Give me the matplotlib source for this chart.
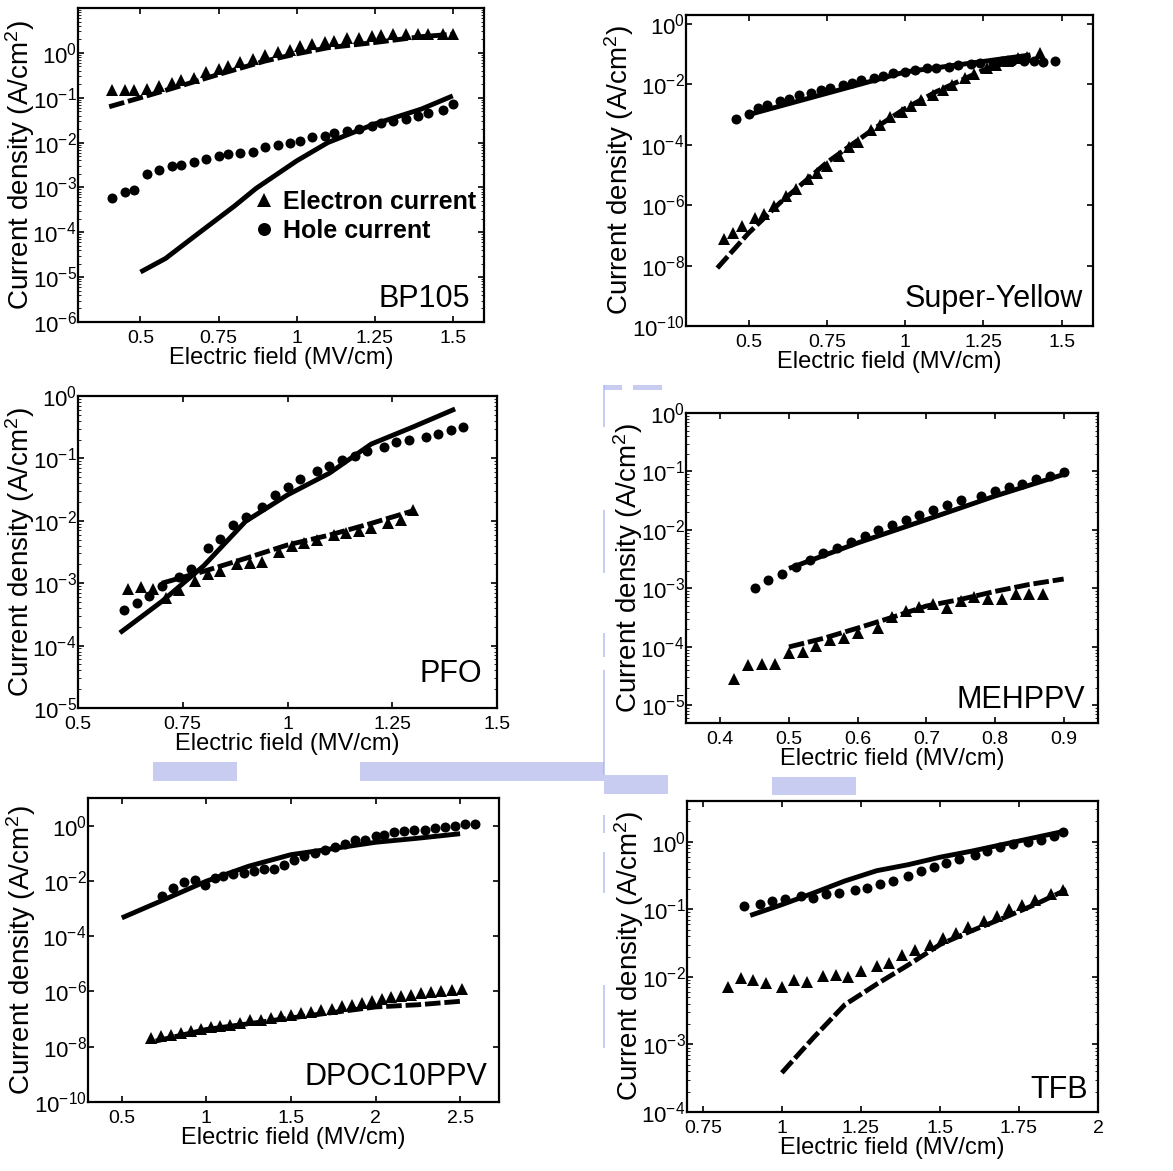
import matplotlib
matplotlib.use("Agg")
import matplotlib.pyplot as plt
from matplotlib.patches import Rectangle
from matplotlib.ticker import FuncFormatter, LogFormatterSciNotation, LogLocator, NullLocator
import numpy as np

plt.rcParams["font.family"] = ["Liberation Sans", "DejaVu Sans"]
plt.rcParams["mathtext.fontset"] = "custom"
plt.rcParams["mathtext.rm"] = "Liberation Sans"
plt.rcParams["mathtext.it"] = "Liberation Sans:italic"
plt.rcParams["mathtext.default"] = "regular"
plt.rcParams["axes.unicode_minus"] = False

# ---- BP105 ----
bp105_field = [0.41, 0.45, 0.48, 0.52, 0.56, 0.60, 0.63, 0.67, 0.71, 0.75, 0.78, 0.82, 0.86, 0.90, 0.94,
               0.98, 1.01, 1.05, 1.09, 1.12, 1.16, 1.20, 1.24, 1.27, 1.31, 1.35, 1.39, 1.42, 1.47, 1.50]
bp105_electron = [0.145, 0.145, 0.151, 0.158, 0.178, 0.214, 0.245, 0.282, 0.372, 0.447, 0.501, 0.631, 0.741,
                  0.891, 1.05, 1.17, 1.41, 1.55, 1.78, 1.86, 2.09, 2.19, 2.34, 2.51, 2.69, 2.69, 2.63, 2.57,
                  2.63, 2.69]
bp105_hole = [5.8e-4, 8.1e-4, 8.9e-4, 2.0e-3, 2.4e-3, 3.0e-3, 3.2e-3, 3.7e-3, 4.3e-3, 5.0e-3, 5.5e-3, 6.0e-3,
              6.3e-3, 7.8e-3, 8.9e-3, 1.0e-2, 1.1e-2, 1.3e-2, 1.4e-2, 1.6e-2, 1.8e-2, 2.0e-2, 2.3e-2, 2.7e-2,
              3.1e-2, 3.3e-2, 4.0e-2, 4.5e-2, 5.4e-2, 7.1e-2]
bp105_efit_x = [0.40, 0.50, 0.60, 0.75, 0.90, 1.00, 1.10, 1.25, 1.40, 1.50]
bp105_efit_y = [0.063, 0.10, 0.16, 0.33, 0.66, 0.95, 1.30, 1.70, 2.30, 2.60]
bp105_hfit_x = [0.50, 0.58, 0.69, 0.80, 0.87, 1.00, 1.10, 1.25, 1.40, 1.50]
bp105_hfit_y = [1.3e-5, 2.6e-5, 1.0e-4, 3.8e-4, 9.5e-4, 3.9e-3, 1.0e-2, 2.6e-2, 5.6e-2, 1.1e-1]

# ---- Super-Yellow ----
sy_hole_x = [0.46, 0.50, 0.53, 0.56, 0.60, 0.63, 0.66, 0.70, 0.73, 0.76, 0.80, 0.83, 0.86, 0.90, 0.93, 0.96,
             1.00, 1.03, 1.07, 1.10, 1.14, 1.17, 1.21, 1.24, 1.28, 1.31, 1.34, 1.38, 1.41, 1.44, 1.48]
sy_hole = [7.4e-4, 1.07e-3, 1.6e-3, 2.1e-3, 2.75e-3, 3.4e-3, 4.4e-3, 5.4e-3, 6.5e-3, 7.8e-3, 9.5e-3, 1.15e-2,
           1.38e-2, 1.66e-2, 1.95e-2, 2.34e-2, 2.63e-2, 3.0e-2, 3.4e-2, 3.6e-2, 3.9e-2, 4.4e-2, 4.7e-2, 5.0e-2,
           5.0e-2, 5.8e-2, 6.0e-2, 5.8e-2, 5.8e-2, 5.4e-2, 6.0e-2]
sy_elec_x = [0.42, 0.45, 0.48, 0.52, 0.55, 0.58, 0.62, 0.65, 0.69, 0.72, 0.75, 0.79, 0.82, 0.85, 0.89, 0.92,
             0.95, 0.99, 1.02, 1.05, 1.09, 1.12, 1.15, 1.19, 1.22, 1.26, 1.29, 1.33, 1.36, 1.39, 1.43]
sy_elec = [7.8e-8, 1.2e-7, 2.0e-7, 3.9e-7, 5.0e-7, 9.5e-7, 2.0e-6, 3.4e-6, 7.4e-6, 1.2e-5, 2.0e-5, 4.4e-5,
           8.3e-5, 1.2e-4, 3.0e-4, 4.4e-4, 8.3e-4, 1.2e-3, 2.0e-3, 3.0e-3, 4.4e-3, 6.5e-3, 9.5e-3, 1.6e-2,
           2.3e-2, 3.4e-2, 4.4e-2, 5.8e-2, 7.4e-2, 8.3e-2, 1.07e-1]
sy_hfit_x = [0.50, 0.75, 1.00, 1.25, 1.40]
sy_hfit_y = [1.0e-3, 5.1e-3, 2.6e-2, 5.8e-2, 9.5e-2]
sy_efit_x = [0.40, 0.50, 0.60, 0.75, 0.90, 1.00, 1.10, 1.25, 1.40]
sy_efit_y = [8.3e-9, 1.2e-7, 1.2e-6, 2.6e-5, 3.4e-4, 1.6e-3, 5.8e-3, 3.0e-2, 9.5e-2]

# ---- PFO ----
pfo_hole_x = [0.61, 0.64, 0.67, 0.70, 0.74, 0.77, 0.81, 0.84, 0.87, 0.90, 0.94, 0.97, 1.00, 1.03, 1.07, 1.10,
              1.13, 1.16, 1.19, 1.23, 1.26, 1.29, 1.33, 1.36, 1.39, 1.42]
pfo_hole = [3.7e-4, 4.9e-4, 6.3e-4, 8.9e-4, 1.26e-3, 1.7e-3, 3.6e-3, 5.1e-3, 8.5e-3, 1.17e-2, 1.66e-2, 2.6e-2,
            3.5e-2, 4.7e-2, 6.2e-2, 7.6e-2, 9.5e-2, 1.1e-1, 1.3e-1, 1.55e-1, 1.8e-1, 2.0e-1, 2.2e-1, 2.5e-1,
            2.9e-1, 3.2e-1]
pfo_elec_x = [0.62, 0.65, 0.68, 0.71, 0.74, 0.78, 0.81, 0.84, 0.88, 0.91, 0.94, 0.98, 1.01, 1.04, 1.07, 1.11,
              1.14, 1.17, 1.20, 1.24, 1.27, 1.30]
pfo_elec = [8.1e-4, 8.7e-4, 8.1e-4, 5.8e-4, 7.8e-4, 1.07e-3, 1.4e-3, 1.55e-3, 2.0e-3, 2.1e-3, 2.2e-3, 3.2e-3,
            3.9e-3, 4.4e-3, 4.9e-3, 5.9e-3, 6.3e-3, 6.8e-3, 7.6e-3, 9.1e-3, 1.02e-2, 1.5e-2]
pfo_hfit_x = [0.60, 0.70, 0.80, 0.90, 1.00, 1.10, 1.20, 1.30, 1.40]
pfo_hfit_y = [1.6e-4, 5.1e-4, 1.9e-3, 9.8e-3, 2.6e-2, 5.8e-2, 1.7e-1, 3.2e-1, 6.2e-1]
pfo_efit_x = [0.70, 0.80, 0.90, 1.00, 1.10, 1.20, 1.30]
pfo_efit_y = [1.0e-3, 1.55e-3, 2.5e-3, 4.1e-3, 5.9e-3, 9.1e-3, 1.45e-2]

# ---- MEHPPV ----
meh_hole_x = [0.45, 0.47, 0.49, 0.51, 0.53, 0.55, 0.57, 0.59, 0.61, 0.63, 0.65, 0.67, 0.69, 0.71, 0.73, 0.75,
              0.78, 0.80, 0.82, 0.84, 0.86, 0.88, 0.90]
meh_hole = [1.0e-3, 1.4e-3, 1.8e-3, 2.3e-3, 3.1e-3, 4.1e-3, 4.9e-3, 6.2e-3, 7.8e-3, 1.0e-2, 1.2e-2, 1.5e-2,
            1.8e-2, 2.2e-2, 2.7e-2, 3.2e-2, 3.8e-2, 4.6e-2, 5.5e-2, 6.2e-2, 7.4e-2, 8.3e-2, 9.8e-2]
meh_elec_x = [0.42, 0.44, 0.46, 0.48, 0.50, 0.52, 0.54, 0.56, 0.58, 0.60, 0.63, 0.65, 0.67, 0.69, 0.71, 0.73,
              0.75, 0.77, 0.79, 0.81, 0.83, 0.85, 0.87]
meh_elec = [2.8e-5, 5.0e-5, 5.2e-5, 5.2e-5, 7.8e-5, 8.1e-5, 1.02e-4, 1.3e-4, 1.4e-4, 1.7e-4, 2.1e-4, 3.2e-4,
            4.1e-4, 4.8e-4, 5.5e-4, 4.7e-4, 6.0e-4, 7.2e-4, 6.5e-4, 6.5e-4, 7.9e-4, 7.9e-4, 7.9e-4]
meh_hfit_x = [0.50, 0.60, 0.70, 0.80, 0.90]
meh_hfit_y = [2.2e-3, 6.0e-3, 1.5e-2, 3.8e-2, 8.9e-2]
meh_efit_x = [0.50, 0.55, 0.60, 0.65, 0.70, 0.75, 0.80, 0.85, 0.90]
meh_efit_y = [1.0e-4, 1.4e-4, 2.1e-4, 3.2e-4, 5.0e-4, 6.5e-4, 8.9e-4, 1.17e-3, 1.45e-3]

# ---- DPOC10PPV ----
dpoc_hole_x = [0.74, 0.80, 0.87, 0.93, 0.99, 1.05, 1.10, 1.16, 1.22, 1.28, 1.34, 1.40, 1.46, 1.52, 1.58, 1.64,
               1.70, 1.76, 1.82, 1.88, 1.94, 2.00, 2.05, 2.11, 2.17, 2.23, 2.29, 2.35, 2.41, 2.47, 2.53, 2.59]
dpoc_hole = [2.75e-3, 5.5e-3, 8.9e-3, 1.12e-2, 7.2e-3, 1.29e-2, 1.48e-2, 1.8e-2, 2.0e-2, 2.2e-2, 2.7e-2, 2.7e-2,
             3.9e-2, 5.9e-2, 8.1e-2, 1.02e-1, 1.35e-1, 1.7e-1, 2.2e-1, 3.0e-1, 3.1e-1, 4.1e-1, 4.7e-1, 5.8e-1,
             6.2e-1, 6.8e-1, 7.2e-1, 8.3e-1, 8.9e-1, 9.5e-1, 1.1, 1.1]
dpoc_elec_x = [0.67, 0.73, 0.79, 0.85, 0.91, 0.97, 1.03, 1.08, 1.14, 1.20, 1.26, 1.32, 1.38, 1.44, 1.50, 1.56,
               1.62, 1.68, 1.74, 1.80, 1.86, 1.92, 1.98, 2.04, 2.09, 2.15, 2.21, 2.27, 2.33, 2.39, 2.45, 2.51]
dpoc_elec = [2.1e-8, 2.4e-8, 2.75e-8, 3.2e-8, 3.6e-8, 4.5e-8, 5.1e-8, 5.5e-8, 5.9e-8, 7.2e-8, 9.1e-8, 9.5e-8,
             1.1e-7, 1.26e-7, 1.35e-7, 1.66e-7, 1.8e-7, 2.2e-7, 2.3e-7, 2.9e-7, 3.3e-7, 3.8e-7, 4.4e-7, 5.4e-7,
             6.3e-7, 7.1e-7, 7.6e-7, 8.7e-7, 9.3e-7, 1.0e-6, 1.1e-6, 1.23e-6]
dpoc_hfit_x = [0.50, 0.75, 1.00, 1.25, 1.50, 1.75, 2.00, 2.25, 2.50]
dpoc_hfit_y = [4.6e-4, 2.1e-3, 9.8e-3, 3.4e-2, 8.9e-2, 1.48e-1, 2.5e-1, 3.5e-1, 5.1e-1]
dpoc_efit_x = [0.70, 1.00, 1.50, 2.00, 2.25, 2.50]
dpoc_efit_y = [1.6e-8, 4.2e-8, 1.1e-7, 2.75e-7, 3.3e-7, 4.4e-7]

# ---- TFB ----
tfb_hole_x = [0.88, 0.93, 0.97, 1.01, 1.06, 1.10, 1.14, 1.18, 1.23, 1.27, 1.31, 1.35, 1.40, 1.44, 1.48, 1.52,
              1.56, 1.61, 1.65, 1.69, 1.73, 1.78, 1.82, 1.86, 1.89]
tfb_hole = [0.112, 0.120, 0.132, 0.141, 0.158, 0.148, 0.166, 0.174, 0.191, 0.209, 0.240, 0.263, 0.309, 0.372,
            0.417, 0.490, 0.550, 0.646, 0.724, 0.832, 0.912, 0.977, 1.07, 1.20, 1.41]
tfb_elec_x = [0.83, 0.87, 0.91, 0.95, 1.00, 1.04, 1.08, 1.13, 1.17, 1.21, 1.25, 1.30, 1.34, 1.38, 1.42, 1.47,
              1.51, 1.55, 1.59, 1.64, 1.68, 1.72, 1.76, 1.80, 1.85, 1.89]
tfb_elec = [7.1e-3, 9.5e-3, 9.1e-3, 8.1e-3, 7.1e-3, 8.9e-3, 8.5e-3, 1.02e-2, 1.05e-2, 1.0e-2, 1.23e-2, 1.45e-2,
            1.6e-2, 2.1e-2, 2.5e-2, 3.0e-2, 3.8e-2, 4.5e-2, 5.4e-2, 6.6e-2, 7.9e-2, 1.0e-1, 1.17e-1, 1.35e-1,
            1.66e-1, 1.95e-1]
tfb_hfit_x = [0.90, 1.00, 1.10, 1.20, 1.30, 1.40, 1.50, 1.60, 1.70, 1.80, 1.90]
tfb_hfit_y = [0.081, 0.117, 0.174, 0.263, 0.372, 0.457, 0.589, 0.724, 0.912, 1.15, 1.45]
tfb_efit_x = [1.00, 1.10, 1.20, 1.25, 1.30, 1.40, 1.50, 1.60, 1.70, 1.80, 1.90]
tfb_efit_y = [3.8e-4, 1.26e-3, 3.9e-3, 5.5e-3, 7.8e-3, 1.5e-2, 3.0e-2, 4.8e-2, 7.4e-2, 1.17e-1, 1.95e-1]

W, H = 1173, 1171


def px_axes(fig, left, top, right, bottom):
    return fig.add_axes([left / W, 1 - bottom / H, (right - left) / W, (bottom - top) / H])


def draw_panel(ax, hole_x, hole, elec_x, elec, hfit, efit):
    ax.plot(hfit[0], hfit[1], color="black", lw=3.5, solid_capstyle="butt")
    ax.plot(efit[0], efit[1], color="black", lw=3.5, dashes=(3.2, 0.8))
    h_e, = ax.plot(elec_x, elec, "^", color="black", ms=8, mew=0)
    h_h, = ax.plot(hole_x, hole, "o", color="black", ms=7.2, mew=0)
    return h_e, h_h


def style_axes(ax, name, xlim, xticks, ylim, yexps, minor=True, name_pos=(0.97, 0.05)):
    ax.set_yscale("log")
    ax.set_xlim(*xlim)
    ax.set_ylim(*ylim)
    ax.set_xticks(xticks)
    ax.xaxis.set_major_formatter(FuncFormatter(lambda v, p: f"{v:g}"))
    ax.set_yticks([10.0 ** e for e in yexps])
    ax.yaxis.set_major_formatter(LogFormatterSciNotation())
    if minor:
        ax.yaxis.set_minor_locator(LogLocator(subs=np.arange(2, 10), numticks=40))
    else:
        ax.yaxis.set_minor_locator(NullLocator())
    ax.xaxis.set_minor_locator(NullLocator())
    ax.tick_params(which="both", direction="in", top=True, right=True)
    ax.tick_params(which="major", length=4, width=1.2)
    ax.tick_params(which="minor", length=2, width=0.6)
    ax.tick_params(axis="x", pad=6, labelsize=14)
    ax.tick_params(axis="y", pad=1, labelsize=16)
    for s in ax.spines.values():
        s.set_linewidth(1.6)
    ax.set_xlabel("Electric field (MV/cm)", fontsize=17, labelpad=0)
    ax.set_ylabel("Current density (A/cm$^2$)", fontsize=20, labelpad=-3)
    ax.text(name_pos[0], name_pos[1], name, transform=ax.transAxes, ha="right", va="baseline", fontsize=22)


fig = plt.figure(figsize=(W / 100, H / 100), dpi=100)

ax1 = px_axes(fig, 78, 8, 484, 322)
h_e, h_h = draw_panel(ax1, bp105_field, bp105_hole, bp105_field, bp105_electron,
                      (bp105_hfit_x, bp105_hfit_y), (bp105_efit_x, bp105_efit_y))
style_axes(ax1, "BP105", (0.3, 1.6), [0.5, 0.75, 1, 1.25, 1.5], (1e-6, 1e1), range(-6, 1),
           name_pos=(0.966, 0.048))
ax1.legend([h_e, h_h], ["Electron current", "Hole current"], loc="upper left",
           bbox_to_anchor=(0.44, 0.42), frameon=False, prop={"weight": "bold", "size": 18},
           handlelength=0.6, handletextpad=0.45, labelspacing=0.2, markerscale=1.3,
           borderaxespad=0, borderpad=0)

ax2 = px_axes(fig, 686, 15, 1093, 326)
draw_panel(ax2, sy_hole_x, sy_hole, sy_elec_x, sy_elec, (sy_hfit_x, sy_hfit_y), (sy_efit_x, sy_efit_y))
style_axes(ax2, "Super-Yellow", (0.3, 1.6), [0.5, 0.75, 1, 1.25, 1.5], (1e-10, 2), range(-10, 1, 2),
           minor=False, name_pos=(0.975, 0.06))

ax3 = px_axes(fig, 78, 396, 497, 708)
draw_panel(ax3, pfo_hole_x, pfo_hole, pfo_elec_x, pfo_elec, (pfo_hfit_x, pfo_hfit_y), (pfo_efit_x, pfo_efit_y))
style_axes(ax3, "PFO", (0.5, 1.5), [0.5, 0.75, 1, 1.25, 1.5], (1e-5, 1), range(-5, 1),
           name_pos=(0.964, 0.083))

ax4 = px_axes(fig, 686, 413, 1098, 723)
draw_panel(ax4, meh_hole_x, meh_hole, meh_elec_x, meh_elec, (meh_hfit_x, meh_hfit_y), (meh_efit_x, meh_efit_y))
style_axes(ax4, "MEHPPV", (0.35, 0.95), [0.4, 0.5, 0.6, 0.7, 0.8, 0.9], (5e-6, 1), range(-5, 1),
           name_pos=(0.968, 0.048))

ax5 = px_axes(fig, 88, 798, 499, 1102)
draw_panel(ax5, dpoc_hole_x, dpoc_hole, dpoc_elec_x, dpoc_elec, (dpoc_hfit_x, dpoc_hfit_y),
           (dpoc_efit_x, dpoc_efit_y))
style_axes(ax5, "DPOC10PPV", (0.3, 2.73), [0.5, 1, 1.5, 2, 2.5], (1e-10, 1e1), range(-10, 1, 2),
           minor=False, name_pos=(0.971, 0.056))

ax6 = px_axes(fig, 687, 801, 1098, 1112)
draw_panel(ax6, tfb_hole_x, tfb_hole, tfb_elec_x, tfb_elec, (tfb_hfit_x, tfb_hfit_y), (tfb_efit_x, tfb_efit_y))
style_axes(ax6, "TFB", (0.7, 2.0), [0.75, 1, 1.25, 1.5, 1.75, 2], (1e-4, 4), range(-4, 1),
           name_pos=(0.976, 0.045))

# faint blue scan residue seen in the source image
blue_blocks = [(153, 762, 237, 781), (360, 762, 604, 781), (604, 775, 668, 794), (772, 777, 856, 795),
               (604, 385, 622, 390), (633, 385, 662, 390)]
for x0, y0, x1, y1 in blue_blocks:
    fig.add_artist(Rectangle((x0 / W, 1 - y1 / H), (x1 - x0) / W, (y1 - y0) / H, transform=fig.transFigure,
                             facecolor="#a3aae6", edgecolor="none", alpha=0.6, zorder=0))
blue_lines = [(385, 427), (510, 573), (633, 657), (670, 775), (815, 833), (852, 893), (985, 1048)]
for y0, y1 in blue_lines:
    fig.add_artist(Rectangle((603 / W, 1 - y1 / H), 2 / W, (y1 - y0) / H, transform=fig.transFigure,
                             facecolor="#a3aef0", edgecolor="none", alpha=0.6, zorder=0))

fig.savefig("out.png", dpi=100)
